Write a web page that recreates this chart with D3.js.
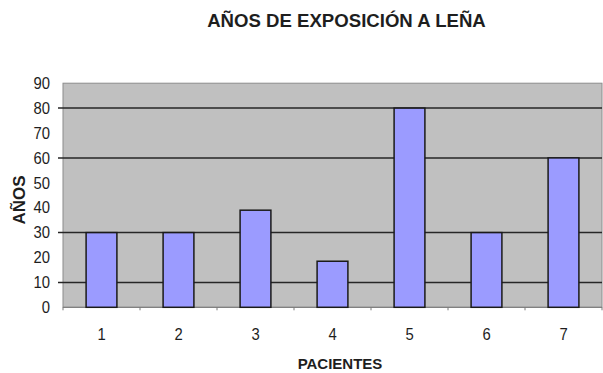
<!DOCTYPE html>
<html>
<head>
<meta charset="utf-8">
<script src="https://cdn.jsdelivr.net/npm/d3@7"></script>
<style>
  html, body { margin: 0; padding: 0; background: #ffffff; }
  svg { display: block; }
  text { font-family: "Liberation Sans", Arial, sans-serif; fill: #1e1e1e; }
</style>
</head>
<body>
<script>
// Patients and years of exposure to wood smoke
const pacientes = ["1", "2", "3", "4", "5", "6", "7"];
const anos = [30, 30, 39, 18.5, 80, 30, 60];
const yTicks = [0, 10, 20, 30, 40, 50, 60, 70, 80, 90];
const gridValues = [10, 30, 60, 80];

const W = 603, H = 373;
const plot = { left: 63, right: 602, top: 83.2, bottom: 307.3 };

const svg = d3.select("body").append("svg")
  .attr("width", W).attr("height", H);

const x = d3.scaleBand()
  .domain(pacientes)
  .range([plot.left, plot.right])
  .paddingInner(0.6)
  .paddingOuter(0.3);

const xEdges = d3.scaleLinear()
  .domain([0, pacientes.length])
  .range([plot.left, plot.right]);

const y = d3.scaleLinear()
  .domain([0, 90])
  .range([plot.bottom, plot.top]);

// plot background
svg.append("rect")
  .attr("x", plot.left).attr("y", plot.top)
  .attr("width", plot.right - plot.left)
  .attr("height", plot.bottom - plot.top)
  .attr("fill", "#c0c0c0")
  .attr("stroke", "#8c8c8c")
  .attr("stroke-width", 1);

// horizontal gridlines with their tick marks
svg.append("g").selectAll("line")
  .data(gridValues)
  .join("line")
  .attr("x1", plot.left - 5).attr("x2", plot.right)
  .attr("y1", d => y(d)).attr("y2", d => y(d))
  .attr("stroke", "#262626")
  .attr("stroke-width", 1.5);

// y axis labels (slightly narrow numerals)
const yAxis = d3.axisLeft(y).tickValues(yTicks).tickSize(0).tickPadding(0);
svg.append("g")
  .attr("transform", `translate(${plot.left},0)`)
  .call(yAxis)
  .call(g => g.select(".domain").remove())
  .call(g => g.selectAll("text")
    .attr("x", 0)
    .attr("transform", "translate(-13,0) scale(0.9,1)")
    .attr("font-size", 16.5)
    .attr("font-family", "Liberation Sans, Arial, sans-serif")
    .attr("fill", "#262626"));

// category boundary ticks along the base
svg.append("line")
  .attr("x1", plot.left).attr("x2", plot.right)
  .attr("y1", plot.bottom).attr("y2", plot.bottom)
  .attr("stroke", "#7a7a7a").attr("stroke-width", 1);
svg.append("g").selectAll("line")
  .data(d3.range(pacientes.length + 1))
  .join("line")
  .attr("x1", d => xEdges(d)).attr("x2", d => xEdges(d))
  .attr("y1", plot.bottom).attr("y2", plot.bottom + 3)
  .attr("stroke", "#7a7a7a").attr("stroke-width", 1);

// bars
svg.append("g").selectAll("rect")
  .data(anos)
  .join("rect")
  .attr("x", (d, i) => x(pacientes[i]))
  .attr("y", d => y(d))
  .attr("width", x.bandwidth())
  .attr("height", d => y(0) - y(d))
  .attr("fill", "#9b9bff")
  .attr("stroke", "#1a1a1a")
  .attr("stroke-width", 1.5);

// x labels
svg.append("g").selectAll("text")
  .data(pacientes)
  .join("text")
  .attr("transform", d => `translate(${x(d) + x.bandwidth() / 2},340) scale(0.9,1)`)
  .attr("text-anchor", "middle")
  .attr("font-size", 16.5)
  .attr("fill", "#262626")
  .text(d => d);

// titles
svg.append("text")
  .attr("x", 346.5).attr("y", 27)
  .attr("text-anchor", "middle")
  .attr("font-size", 18.6)
  .attr("font-weight", "bold")
  .text("AÑOS DE EXPOSICIÓN A LEÑA");

svg.append("text")
  .attr("x", 340).attr("y", 369)
  .attr("text-anchor", "middle")
  .attr("font-size", 15)
  .attr("font-weight", "bold")
  .text("PACIENTES");

svg.append("text")
  .attr("transform", "translate(25,200) rotate(-90)")
  .attr("text-anchor", "middle")
  .attr("font-size", 17)
  .attr("font-weight", "bold")
  .text("AÑOS");
</script>
</body>
</html>
